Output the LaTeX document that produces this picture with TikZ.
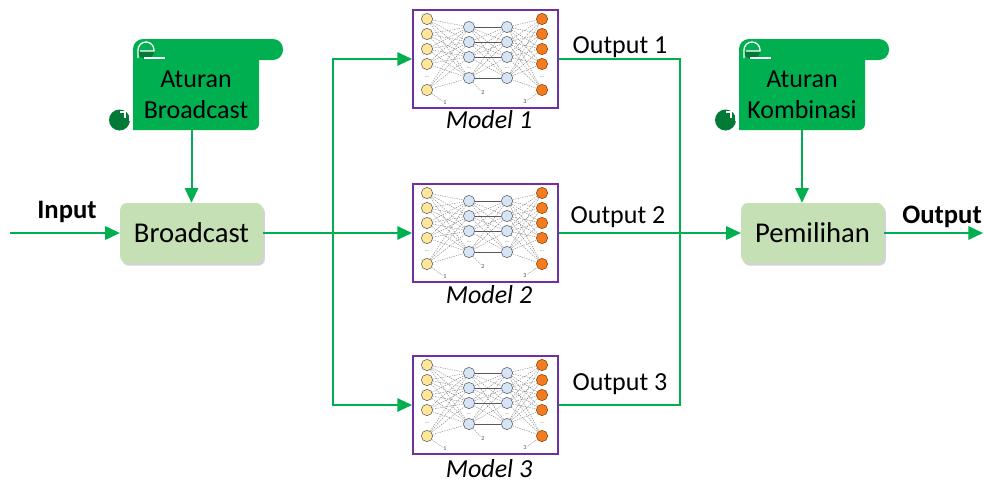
\documentclass[tikz,border=0pt]{standalone}
\usepackage{fontspec}
\setmainfont{Carlito}
\usetikzlibrary{arrows.meta,shadows}

\definecolor{linkgreen}{HTML}{00B050}
\definecolor{curlgreen}{HTML}{007A36}
\definecolor{boxgreen}{HTML}{C5E0B4}
\definecolor{modelpurple}{HTML}{7030A0}
\definecolor{inyellow}{HTML}{FFE699}
\definecolor{hidblue}{HTML}{D6E4F7}
\definecolor{outorange}{HTML}{F47B20}

\tikzset{
  link/.style={draw=linkgreen, line width=1.5pt},
  arrow/.style={link, -{Triangle[length=11pt,width=10pt]}},
  proc/.style={rounded corners=5pt, fill=boxgreen, minimum width=107pt,
    minimum height=45pt, font=\fontsize{21.5}{24}\selectfont,
    drop shadow={shadow xshift=1.5pt, shadow yshift=-2pt, opacity=0.35}},
  model/.style={draw=modelpurple, line width=1.5pt, fill=white,
    minimum width=108.75pt, minimum height=73.5pt, inner sep=0pt},
  lbl/.style={font=\fontsize{19.5}{23}\selectfont, inner sep=0pt, anchor=base},
  mlbl/.style={lbl, font=\fontsize{19.5}{23}\selectfont\itshape},
  scrolltext/.style={align=center, inner sep=0pt, minimum width=94.5pt,
    minimum height=53.25pt, font=\fontsize{19.5}{23.25}\selectfont},
  unit/.style={circle, minimum size=8.5pt, inner sep=0pt, line width=0.4pt},
  inunit/.style={unit, fill=inyellow, draw=gray!70!black},
  hidunit/.style={unit, fill=hidblue, draw=gray!70!black},
  outunit/.style={unit, fill=outorange, draw=orange!50!black},
  wt/.style={black!50, line width=0.3pt, dash pattern=on 1pt off 0.8pt},
  dots/.style={font=\fontsize{4}{4}\selectfont, inner sep=0pt, gray!60!black},
  layerno/.style={font=\fontsize{4.5}{5}\selectfont, inner sep=0.5pt, gray!60!black},
}

% scroll behind a rule text, #1 = top left corner of its body
\newcommand\scrollshape[1]{%
  \begin{scope}[shift={(#1)}]
    \fill[linkgreen] (0,-10) -- (126,-10) -- (126,65) arc (0:90:6) -- (0,71) -- cycle;
    \fill[linkgreen, rounded corners=7.5pt] (0,-20) rectangle (150,1);
    % top curl
    \fill[curlgreen] (21,-8) arc (0:180:8) -- cycle;
    \draw[white, line width=1pt] (5,-1) -- (5,-9) arc (180:360:8) -- (21,-8) -- (7,-8);
    \draw[white, line width=1pt] (11,-1) -- (32,-1);
    % bottom curl
    \fill[curlgreen] (-13.5,61) circle (10.5);
    \draw[white, line width=1pt] (-13,53) -- (-8,53) -- (-8,59);
    \draw[white, line width=1pt] (-3,52) -- (-3,62);
  \end{scope}}

% small neural network drawn inside model box #1
\newcommand\netdiagram[1]{%
  \begin{scope}[shift={(#1.north west)}]
    \foreach \r [count=\i] in {10,25,40,55,81} {
      \node[inunit] (#1-a\i) at (15,\r) {};
      \node[outunit] (#1-d\i) at (130,\r) {};
    }
    \foreach \r [count=\i] in {18,33,48,69} {
      \node[hidunit] (#1-b\i) at (57,\r) {};
      \node[hidunit] (#1-c\i) at (95,\r) {};
    }
    \foreach \i in {1,...,5}
      \foreach \j in {1,...,4} {
        \draw[wt] (#1-a\i) -- (#1-b\j);
        \draw[wt] (#1-c\j) -- (#1-d\i);
      }
    \foreach \i in {1,...,4}
      \foreach \j in {1,...,4}
        \draw[wt] (#1-b\i) -- (#1-c\j);
    \foreach \i in {1,...,4}
      \draw[black!65, line width=0.6pt] (#1-b\i) -- (#1-c\i);
    % dots for the units left out
    \node[dots] (#1-p1) at (15,68) {...};
    \node[dots] (#1-p2) at (57,59) {...};
    \node[dots] (#1-p3) at (95,59) {...};
    \node[dots] (#1-p4) at (130,68) {...};
    % layer numbers
    \node[layerno] (#1-n1) at (33,94) {1};
    \node[layerno] (#1-n2) at (71,84) {2};
    \node[layerno] (#1-n3) at (113,93) {3};
    \draw[wt] (#1-n1) -- (#1-a5);
    \draw[wt] (#1-n2) -- (#1-b4);
    \draw[wt] (#1-n3) -- (#1-d5);
  \end{scope}}

\begin{document}
\begin{tikzpicture}[x=0.75pt, y=-0.75pt]
\useasboundingbox (0,0) rectangle (984,482);

% rule scrolls
\scrollshape{133,59}
\scrollshape{739,59}
\node[scrolltext] (ab) at (196,94.5) {Aturan\\Broadcast};
\node[scrolltext] (ak) at (802,94.5) {Aturan\\Kombinasi};

% processing boxes
\node[proc] (bc) at (191.5,233) {Broadcast};
\node[proc] (pm) at (812.5,233) {Pemilihan};

% models
\node[model] (m1) at (485.5,59) {};
\node[model] (m2) at (485.5,233) {};
\node[model] (m3) at (485.5,405) {};
\netdiagram{m1}
\netdiagram{m2}
\netdiagram{m3}
\node[mlbl] (l1) at (489,128) {Model 1};
\node[mlbl] (l2) at (489,303) {Model 2};
\node[mlbl] (l3) at (489,477) {Model 3};

% connectors
\coordinate (in) at (10,233);
\coordinate (split) at (333,233);
\coordinate (join) at (680,233);
\coordinate (out) at (983,233);
\draw[arrow] (in) -- (bc);
\draw[arrow] (ab.south -| bc) -- (bc);
\draw[arrow] (ak) -- (ak |- pm.north);
\draw[arrow] (bc) -- (m2);
\draw[arrow] (split) |- (m1);
\draw[arrow] (split) |- (m3);
\draw[link] (m1) -| (join);
\draw[link] (m3) -| (join);
\draw[arrow] (m2) -- (pm);
\draw[arrow] (pm) -- (out);

% labels
\node[lbl, font=\fontsize{20}{23}\selectfont\bfseries] (li) at (67,218) {Input};
\node[lbl, font=\fontsize{20}{23}\selectfont\bfseries] (lo) at (942,223) {Output};
\node[lbl] (o1) at (620,53) {Output 1};
\node[lbl] (o2) at (618,223) {Output 2};
\node[lbl] (o3) at (620,390) {Output 3};
\end{tikzpicture}
\end{document}
